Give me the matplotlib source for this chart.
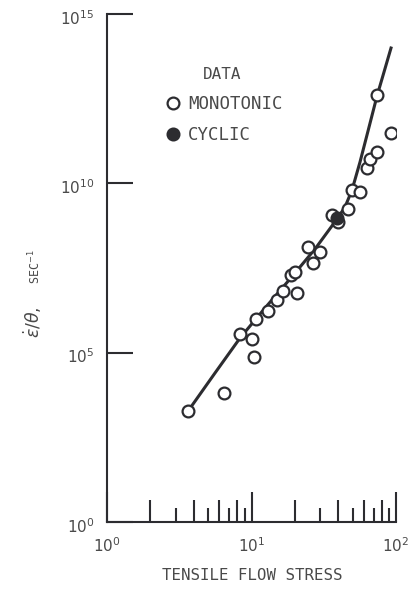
import numpy as np
import matplotlib.pyplot as plt
import matplotlib.transforms as mtransforms
from matplotlib.ticker import FixedLocator, NullLocator

# monotonic tests: tensile flow stress vs strain-rate / theta
mono_stress = [3.64, 6.45, 8.33, 10.08, 10.41, 10.74, 13.01, 15.02, 16.52, 20.65,
               18.76, 20.0, 24.6, 26.65, 29.79, 36.07, 39.68, 46.54, 49.61, 56.36,
               63.0, 66.1, 73.87, 73.87, 92.35]
mono_rate = [1.89e3, 6.44e3, 3.56e5, 2.53e5, 7.44e4, 9.86e5, 1.70e6, 3.59e6, 6.61e6, 5.77e6,
             1.96e7, 2.41e7, 1.32e8, 4.44e7, 9.37e7, 1.16e9, 7.20e8, 1.74e9, 6.34e9, 5.54e9,
             2.83e10, 5.22e10, 8.40e10, 4.05e12, 3.05e11]

# cyclic test
cyc_stress = [39.06]
cyc_rate = [9.46e8]

# fitted curve (traced)
fit_stress = [3.64, 5.59, 8.33, 12.40, 18.47, 27.51, 39.06, 44.37, 49.61, 56.36,
              64.02, 73.87, 82.60, 92.35]
fit_rate = [1.89e3, 2.51e4, 2.71e5, 2.08e6, 1.50e7, 1.15e8, 8.83e8, 2.0e9, 6.34e9, 4.26e10,
            3.50e11, 3.78e12, 1.93e13, 9.89e13]

x_major = [1, 10, 100]
x_major_labels = ['$10^0$', '$10^1$', '$10^2$']
x_long = [2, 4, 6, 8, 20, 40, 60, 80]
x_short = [3, 5, 7, 9, 30, 50, 70, 90]
y_major = [1, 1e5, 1e10, 1e15]
y_major_labels = ['$10^0$', '$10^5$', '$10^{10}$', '$10^{15}$']

ink = '#2c2c30'
txt = '#4a4a4a'
mono = 'DejaVu Sans Mono'

W, H = 419, 589
fig = plt.figure(figsize=(W / 100, H / 100), dpi=100)
ax = fig.add_axes([107 / W, 67 / H, 289 / W, 508 / H])

ax.set_xscale('log')
ax.set_yscale('log')
ax.set_xlim(1, 100)
ax.set_ylim(1, 1e15)

ax.plot(fit_stress, fit_rate, color=ink, lw=2.2, zorder=2)
ax.plot(mono_stress, mono_rate, 'o', ls='none', ms=8.5, mfc='white', mec=ink, mew=1.6,
        zorder=3, label='MONOTONIC')
ax.plot(cyc_stress, cyc_rate, 'o', ls='none', ms=8.5, mfc=ink, mec=ink, mew=1.6,
        zorder=4, label='CYCLIC')

for s in ['top', 'right']:
    ax.spines[s].set_visible(False)
for s in ['left', 'bottom']:
    ax.spines[s].set_color(ink)
    ax.spines[s].set_linewidth(1.5)

ax.xaxis.set_major_locator(FixedLocator(x_major))
ax.set_xticklabels(x_major_labels)
ax.xaxis.set_minor_locator(FixedLocator(x_short))
ax.yaxis.set_major_locator(FixedLocator(y_major))
ax.set_yticklabels(y_major_labels)
ax.yaxis.set_minor_locator(NullLocator())

ax.tick_params(axis='x', which='major', direction='in', length=21.5, width=1.5,
               color=ink, pad=10, labelsize=11, labelcolor=txt)
ax.tick_params(axis='x', which='minor', direction='in', length=10, width=1.5, color=ink)
ax.tick_params(axis='y', which='major', direction='in', length=18.5, width=1.5,
               color=ink, pad=9, labelsize=11, labelcolor=txt)

# y labels sit a little below their ticks in the original
shift = mtransforms.ScaledTranslation(0, -3 / 72, fig.dpi_scale_trans)
for lab in ax.get_yticklabels():
    lab.set_va('center')
    lab.set_transform(lab.get_transform() + shift)

sec = ax.secondary_xaxis(0)
sec.set_xticks(x_long)
sec.set_xticklabels([''] * len(x_long))
sec.xaxis.set_minor_locator(NullLocator())
sec.spines['bottom'].set_visible(False)
sec.tick_params(axis='x', which='major', direction='in', length=16, width=1.5, color=ink)

fig.text(252 / W, 1 - 575 / H, 'TENSILE FLOW STRESS', family=mono, fontsize=11.3,
         color=txt, ha='center', va='center')
fig.text(33 / W, 1 - 338 / H, r'$\dot{\varepsilon}/\theta$,', fontsize=12.5, color=txt,
         rotation=90, ha='center', va='bottom')
fig.text(35 / W, 1 - 284 / H, 'SEC$^{-1}$', family=mono, fontsize=8.5, color=txt,
         rotation=90, ha='center', va='bottom')

leg = ax.legend(loc='upper left', bbox_to_anchor=(147 / W, 1 - 51 / H),
                bbox_transform=fig.transFigure, frameon=False, title='DATA',
                prop={'family': mono, 'size': 12.5}, handletextpad=0.25,
                labelspacing=0.75, handlelength=1.2)
leg.get_title().set_family(mono)
leg.get_title().set_fontsize(11.5)
leg.get_title().set_color(txt)
for t in leg.get_texts():
    t.set_color(txt)

fig.savefig('out.png', dpi=100)
